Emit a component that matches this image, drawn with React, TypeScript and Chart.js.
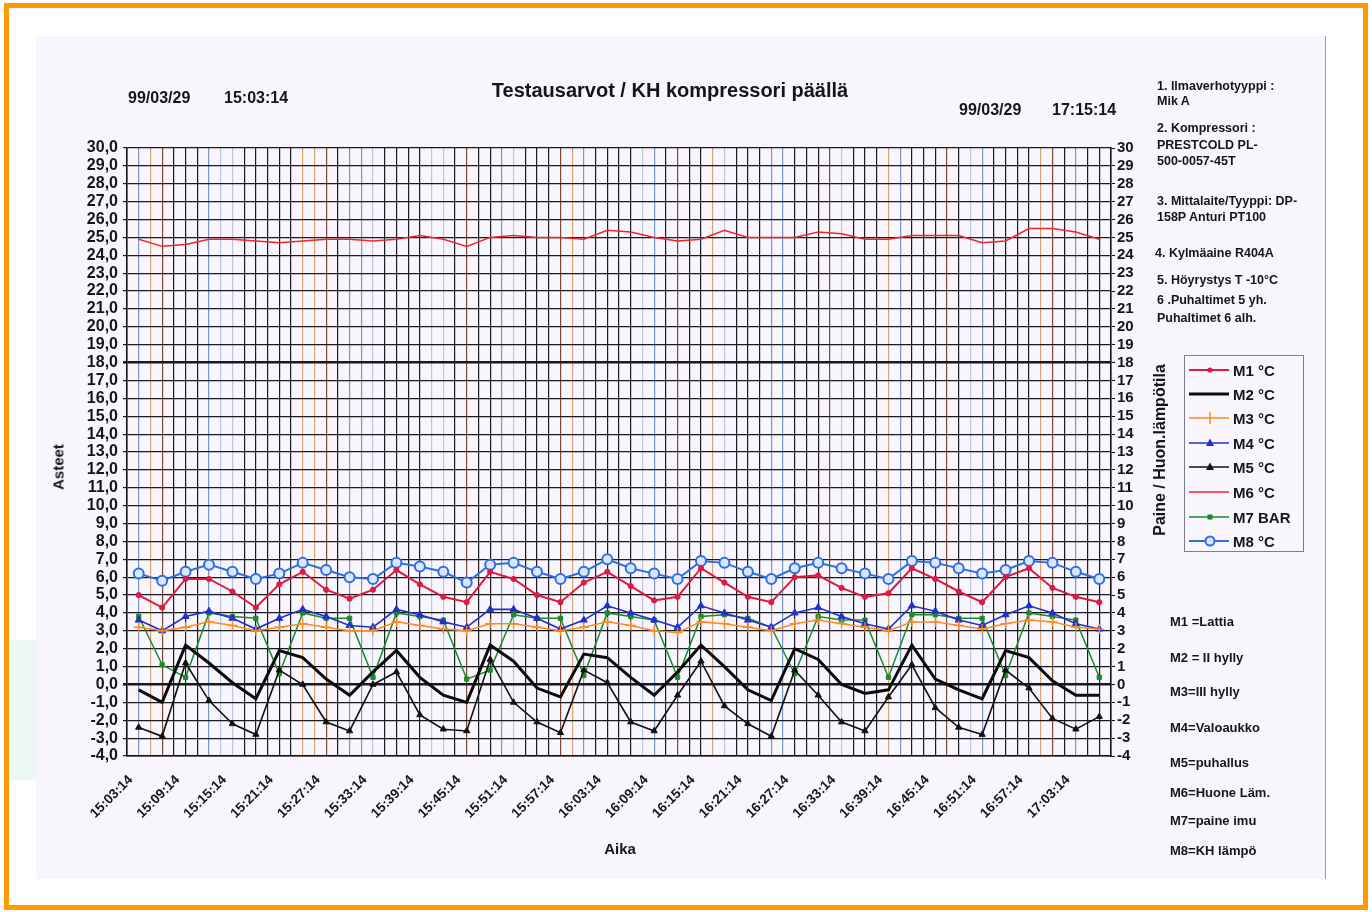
import React, { useEffect, useRef } from 'react';
import { Chart, registerables } from 'chart.js';

Chart.register(...registerables);

// ---------- DATA ----------
const TIME_LABELS = [
  '15:03:14', '15:06:14', '15:09:14', '15:12:14', '15:15:14', '15:18:14', '15:21:14', '15:24:14',
  '15:27:14', '15:30:14', '15:33:14', '15:36:14', '15:39:14', '15:42:14', '15:45:14', '15:48:14',
  '15:51:14', '15:54:14', '15:57:14', '16:00:14', '16:03:14', '16:06:14', '16:09:14', '16:12:14',
  '16:15:14', '16:18:14', '16:21:14', '16:24:14', '16:27:14', '16:30:14', '16:33:14', '16:36:14',
  '16:39:14', '16:42:14', '16:45:14', '16:48:14', '16:51:14', '16:54:14', '16:57:14', '17:00:14',
  '17:03:14', '17:06:14',
];

const M1_LATTIA = [
  5.0, 4.3, 5.9, 5.9, 5.2, 4.3, 5.6, 6.3, 5.3, 4.8, 5.3, 6.4, 5.6, 4.9, 4.6, 6.3, 5.9, 5.0, 4.6, 5.7,
  6.3, 5.5, 4.7, 4.9, 6.5, 5.7, 4.9, 4.6, 6.0, 6.1, 5.4, 4.9, 5.1, 6.5, 5.9, 5.2, 4.6, 6.0, 6.5, 5.4,
  4.9, 4.6,
];
const M2_II_HYLLY = [
  -0.3, -1.0, 2.2, 1.2, 0.1, -0.8, 1.9, 1.5, 0.3, -0.6, 0.7, 1.9, 0.4, -0.6, -1.0, 2.2, 1.3, -0.2, -0.7, 1.7,
  1.5, 0.4, -0.6, 0.7, 2.2, 1.0, -0.3, -0.9, 2.0, 1.4, 0.0, -0.5, -0.3, 2.2, 0.3, -0.3, -0.8, 1.9, 1.5, 0.2,
  -0.6, -0.6,
];
const M3_III_HYLLY = [
  3.2, 3.0, 3.2, 3.5, 3.3, 3.0, 3.2, 3.4, 3.2, 3.0, 3.0, 3.5, 3.3, 3.1, 3.0, 3.4, 3.4, 3.2, 3.0, 3.2,
  3.5, 3.3, 3.0, 2.9, 3.5, 3.4, 3.2, 3.0, 3.4, 3.6, 3.4, 3.2, 3.0, 3.5, 3.5, 3.3, 3.1, 3.4, 3.6, 3.5,
  3.2, 3.1,
];
const M4_VALOAUKKO = [
  3.6, 3.0, 3.8, 4.1, 3.7, 3.1, 3.7, 4.2, 3.8, 3.3, 3.2, 4.2, 3.9, 3.5, 3.2, 4.2, 4.2, 3.7, 3.1, 3.6,
  4.4, 4.0, 3.6, 3.2, 4.4, 4.0, 3.6, 3.2, 4.0, 4.3, 3.8, 3.4, 3.1, 4.4, 4.1, 3.6, 3.3, 3.9, 4.4, 4.0,
  3.4, 3.1,
];
const M5_PUHALLUS = [
  -2.4, -2.9, 1.2, -0.9, -2.2, -2.8, 0.8, 0.0, -2.1, -2.6, 0.0, 0.7, -1.7, -2.5, -2.6, 1.4, -1.0, -2.1, -2.7, 0.8,
  0.1, -2.1, -2.6, -0.6, 1.3, -1.2, -2.2, -2.9, 0.8, -0.6, -2.1, -2.6, -0.7, 1.1, -1.3, -2.4, -2.8, 0.8, -0.2, -1.9,
  -2.5, -1.8,
];
const M6_HUONE = [
  24.9, 24.5, 24.6, 24.9, 24.9, 24.8, 24.7, 24.8, 24.9, 24.9, 24.8, 24.9, 25.1, 24.9, 24.5, 25.0, 25.1, 25.0, 25.0, 24.9,
  25.4, 25.3, 25.0, 24.8, 24.9, 25.4, 25.0, 25.0, 25.0, 25.3, 25.2, 24.9, 24.9, 25.1, 25.1, 25.1, 24.7, 24.8, 25.5, 25.5,
  25.3, 24.9,
];
const M7_PAINE_IMU = [
  3.8, 1.1, 0.4, 4.0, 3.8, 3.7, 0.6, 4.0, 3.7, 3.7, 0.4, 4.0, 3.8, 3.6, 0.3, 0.8, 3.9, 3.7, 3.7, 0.5,
  4.0, 3.8, 3.6, 0.4, 3.8, 3.9, 3.7, 3.2, 0.6, 3.8, 3.6, 3.6, 0.4, 3.9, 3.9, 3.7, 3.7, 0.5, 4.0, 3.8,
  3.6, 0.4,
];
const M8_KH_LAMPO = [
  6.2, 5.8, 6.3, 6.7, 6.3, 5.9, 6.2, 6.8, 6.4, 6.0, 5.9, 6.8, 6.6, 6.3, 5.7, 6.7, 6.8, 6.3, 5.9, 6.3,
  7.0, 6.5, 6.2, 5.9, 6.9, 6.8, 6.3, 5.9, 6.5, 6.8, 6.5, 6.2, 5.9, 6.9, 6.8, 6.5, 6.2, 6.4, 6.9, 6.8,
  6.3, 5.9,
];

const SERIES_NAMES = ['M1 °C', 'M2 °C', 'M3 °C', 'M4 °C', 'M5 °C', 'M6 °C', 'M7 BAR', 'M8 °C'];
const Y_MIN = -4;
const Y_MAX = 30;

const NOTES_TOP = [
  '1. Ilmaverhotyyppi :', 'Mik A', '2. Kompressori :', 'PRESTCOLD PL-', '500-0057-45T',
  '3. Mittalaite/Tyyppi: DP-', '158P Anturi PT100', '4. Kylmäaine R404A', '5. Höyrystys T -10°C',
  '6 .Puhaltimet 5 yh.', 'Puhaltimet 6 alh.',
];
const NOTES_BOTTOM = [
  'M1 =Lattia', 'M2 = II hylly', 'M3=III hylly', 'M4=Valoaukko', 'M5=puhallus', 'M6=Huone Läm.',
  'M7=paine imu', 'M8=KH lämpö',
];

// ---------- STYLE ----------
const FONT = '"Liberation Sans", Arial, Helvetica, sans-serif';
const INK = '#151518';
const RED1 = '#dc1a42';
const RED6 = '#f2262a';
const ORANGE = '#ff8a1c';
const BLUE4 = '#2030cc';
const BLACK5 = '#111111';
const GREEN = '#1b8a2c';
const BLUE8 = '#2e6fe2';
const PAPER = '#f8f5fc';

const GRID_COLOR_MAP: Record<string, string> = {
  k: '#1c1c24',
  r: '#7e4634',
  b: '#7d94c6',
  o: '#d7a676',
  l: '#bcc6df',
};
const GRID_PATTERN =
  'kborkkkbllkkkkkoorkbblkkkkllkrkk' + 'blkkkrobkkkklbkrkkolkkkbbkkkrlkk' + 'kobkkkrklbkkkkorkbkkk';

const NOTES_TOP_Y = [86, 101, 128, 145, 161, 201, 217, 253, 280, 300, 318];
const NOTES_BOTTOM_Y = [621, 657, 691, 727, 762, 792, 820, 850];
const LEGEND_Y = [370, 394, 418, 443, 467, 492, 517, 541];

function Txt(props: { x: number; y: number; size?: number; children: React.ReactNode; center?: boolean; style?: React.CSSProperties }) {
  const size = props.size ?? 13;
  return (
    <div
      style={{
        position: 'absolute',
        left: props.x,
        top: props.y - size * 0.5,
        fontSize: size,
        lineHeight: `${size}px`,
        fontWeight: 700,
        whiteSpace: 'nowrap',
        color: INK,
        transform: props.center ? 'translateX(-50%)' : undefined,
        ...props.style,
      }}
    >
      {props.children}
    </div>
  );
}

function RotTxt(props: { x: number; y: number; size: number; children: React.ReactNode }) {
  return (
    <div
      style={{
        position: 'absolute',
        left: props.x,
        top: props.y,
        fontSize: props.size,
        lineHeight: `${props.size}px`,
        fontWeight: 700,
        whiteSpace: 'nowrap',
        color: INK,
        transform: 'translate(-50%,-50%) rotate(-90deg)',
      }}
    >
      {props.children}
    </div>
  );
}

function LegendSymbol({ idx }: { idx: number }) {
  const w = 42;
  const h = 14;
  const cy = 7;
  const cx = 21;
  const colors = [RED1, '#0c0c0c', ORANGE, BLUE4, BLACK5, RED6, GREEN, BLUE8];
  const widths = [2, 3, 1.5, 1.6, 1.6, 1.5, 1.5, 2];
  const c = colors[idx];
  let marker: React.ReactNode = null;
  if (idx === 0) marker = <circle cx={cx} cy={cy} r={2.6} fill={c} />;
  if (idx === 2) marker = <line x1={cx} y1={cy - 6} x2={cx} y2={cy + 6} stroke={c} strokeWidth={1.5} />;
  if (idx === 3 || idx === 4)
    marker = <polygon points={`${cx},${cy - 4.5} ${cx + 4},${cy + 3} ${cx - 4},${cy + 3}`} fill={c} />;
  if (idx === 6) marker = <rect x={cx - 2.5} y={cy - 2.5} width={5} height={5} fill={c} />;
  if (idx === 7) marker = <circle cx={cx} cy={cy} r={4.5} fill="#dbe5fb" stroke={c} strokeWidth={2} />;
  return (
    <svg width={w} height={h} style={{ display: 'block' }}>
      <line x1={0} y1={cy} x2={w - 2} y2={cy} stroke={c} strokeWidth={widths[idx]} />
      {marker}
    </svg>
  );
}

export default function App() {
  const ref = useRef<HTMLCanvasElement>(null);

  useEffect(() => {
    const canvas = ref.current;
    if (!canvas) return;
    const tickFont = { family: FONT, size: 16, weight: 'bold' as const };

    const chart = new Chart(canvas, {
      type: 'line',
      data: {
        labels: TIME_LABELS,
        datasets: [
          {
            label: SERIES_NAMES[0], data: M1_LATTIA, borderColor: RED1, backgroundColor: RED1,
            borderWidth: 2, pointStyle: 'circle', pointRadius: 2.6, pointBorderWidth: 1,
            xAxisID: 'x', yAxisID: 'y',
          },
          {
            label: SERIES_NAMES[1], data: M2_II_HYLLY, borderColor: '#0c0c0c', backgroundColor: '#0c0c0c',
            borderWidth: 3, pointRadius: 0, xAxisID: 'x', yAxisID: 'y',
          },
          {
            label: SERIES_NAMES[2], data: M3_III_HYLLY, borderColor: ORANGE, backgroundColor: ORANGE,
            borderWidth: 1.5, pointStyle: 'cross', pointRadius: 5, pointBorderWidth: 1.3,
            xAxisID: 'x', yAxisID: 'y',
          },
          {
            label: SERIES_NAMES[3], data: M4_VALOAUKKO, borderColor: BLUE4, backgroundColor: BLUE4,
            borderWidth: 1.6, pointStyle: 'triangle', pointRadius: 4, pointBorderWidth: 1,
            xAxisID: 'x', yAxisID: 'y',
          },
          {
            label: SERIES_NAMES[4], data: M5_PUHALLUS, borderColor: BLACK5, backgroundColor: BLACK5,
            borderWidth: 1.6, pointStyle: 'triangle', pointRadius: 3.6, pointBorderWidth: 1,
            xAxisID: 'x', yAxisID: 'y',
          },
          {
            label: SERIES_NAMES[5], data: M6_HUONE, borderColor: RED6, backgroundColor: RED6,
            borderWidth: 1.5, pointRadius: 0, xAxisID: 'x', yAxisID: 'y2',
          },
          {
            label: SERIES_NAMES[6], data: M7_PAINE_IMU, borderColor: GREEN, backgroundColor: GREEN,
            borderWidth: 1.5, pointStyle: 'rect', pointRadius: 3, pointBorderWidth: 1,
            xAxisID: 'x', yAxisID: 'y2',
          },
          {
            label: SERIES_NAMES[7], data: M8_KH_LAMPO, borderColor: BLUE8, backgroundColor: '#dbe5fb',
            borderWidth: 2, pointStyle: 'circle', pointRadius: 5, pointBorderWidth: 2,
            xAxisID: 'x', yAxisID: 'y',
          },
        ],
      },
      options: {
        responsive: false,
        animation: false,
        devicePixelRatio: 1,
        layout: { padding: { top: 112, left: 0, right: 0, bottom: 0 } },
        plugins: {
          legend: { display: false },
          tooltip: { enabled: false },
          title: { display: false },
        },
        scales: {
          x: {
            type: 'category',
            position: 'bottom',
            offset: true,
            grid: { display: false, drawTicks: false },
            border: { display: true, color: '#111', width: 1.5 },
            ticks: {
              autoSkip: false,
              minRotation: 45,
              maxRotation: 45,
              padding: 16,
              labelOffset: -8,
              font: { family: FONT, size: 13.5, weight: 'bold' as const },
              color: INK,
              callback: function (this: any, value: any, index: number) {
                return index % 2 === 0 ? this.getLabelForValue(value) : '';
              },
            },
            afterFit: (s: any) => {
              s.height = 123;
            },
          },
          xg: {
            type: 'linear',
            position: 'bottom',
            min: -0.5,
            max: 41.5,
            ticks: { display: false, stepSize: 0.5, autoSkip: false },
            grid: {
              drawTicks: false,
              lineWidth: 1.2,
              color: (c: any) => GRID_COLOR_MAP[GRID_PATTERN[c.index] || 'k'],
            },
            border: { display: false },
            afterFit: (s: any) => {
              s.height = 0;
            },
          },
          y: {
            position: 'left',
            min: Y_MIN,
            max: Y_MAX,
            ticks: {
              stepSize: 1,
              autoSkip: false,
              padding: 5,
              font: tickFont,
              color: INK,
              callback: (v: any) => Number(v).toFixed(1).replace('.', ','),
            },
            grid: {
              color: '#1a1a1e',
              tickLength: 4,
              lineWidth: (c: any) => (c.tick && (c.tick.value === 0 || c.tick.value === 18) ? 2.6 : 1.2),
            },
            border: { color: '#111', width: 1.5 },
            afterFit: (s: any) => {
              s.width = 91;
            },
          },
          y2: {
            position: 'right',
            min: Y_MIN,
            max: Y_MAX,
            ticks: {
              stepSize: 1,
              autoSkip: false,
              padding: 2,
              font: { family: FONT, size: 15, weight: 'bold' as const },
              color: INK,
            },
            grid: { drawOnChartArea: false, tickLength: 4, color: '#111' },
            border: { color: '#111', width: 1.5 },
            afterFit: (s: any) => {
              s.width = 215;
            },
          },
        },
      } as any,
    });
    return () => chart.destroy();
  }, []);

  return (
    <div
      style={{
        position: 'absolute',
        left: 0,
        top: 0,
        width: 1372,
        height: 912,
        background: '#ffffff',
        overflow: 'hidden',
        fontFamily: FONT,
      }}
    >
      {/* orange frame */}
      <div
        style={{
          position: 'absolute',
          left: 4,
          top: 3,
          width: 1364,
          height: 907,
          border: '5px solid #ff9a00',
          boxSizing: 'border-box',
        }}
      />
      <div style={{ position: 'absolute', left: 9, top: 640, width: 27, height: 140, background: '#eaf7f3' }} />
      {/* scanned sheet */}
      <div
        style={{
          position: 'absolute',
          left: 36,
          top: 36,
          width: 1290,
          height: 843,
          background: PAPER,
          borderRight: '1px solid #9c9cab',
          boxSizing: 'border-box',
        }}
      />
      <canvas
        ref={ref}
        width={1290}
        height={843}
        style={{ position: 'absolute', left: 36, top: 36, width: 1290, height: 843 }}
      />

      {/* title & headers */}
      <div
        style={{
          position: 'absolute',
          left: 370,
          width: 600,
          top: 80,
          textAlign: 'center',
          fontSize: 20,
          lineHeight: '20px',
          fontWeight: 700,
          color: INK,
          whiteSpace: 'nowrap',
        }}
      >
        Testausarvot / KH kompressori päällä
      </div>
      <Txt x={128} y={98} size={16}>99/03/29</Txt>
      <Txt x={224} y={98} size={16}>15:03:14</Txt>
      <Txt x={959} y={110} size={16}>99/03/29</Txt>
      <Txt x={1052} y={110} size={16}>17:15:14</Txt>

      {/* axis titles */}
      <RotTxt x={58} y={467} size={15}>Asteet</RotTxt>
      <RotTxt x={1160} y={450} size={16}>Paine / Huon.lämpötila</RotTxt>
      <Txt x={620} y={848} size={15} center>Aika</Txt>

      {/* notes top-right */}
      {NOTES_TOP.map((t, i) => (
        <Txt key={'nt' + i} x={i === 7 ? 1155 : 1157} y={NOTES_TOP_Y[i]} size={12.5}>
          {t}
        </Txt>
      ))}

      {/* legend */}
      <div
        style={{
          position: 'absolute',
          left: 1184,
          top: 355,
          width: 120,
          height: 197,
          border: '1px solid #7c7c8c',
          boxSizing: 'border-box',
          background: PAPER,
        }}
      />
      {SERIES_NAMES.map((name, i) => (
        <React.Fragment key={'lg' + i}>
          <div style={{ position: 'absolute', left: 1189, top: LEGEND_Y[i] - 7 }}>
            <LegendSymbol idx={i} />
          </div>
          <Txt x={1233} y={LEGEND_Y[i]} size={15}>
            {name}
          </Txt>
        </React.Fragment>
      ))}

      {/* notes bottom-right */}
      {NOTES_BOTTOM.map((t, i) => (
        <Txt key={'nb' + i} x={1170} y={NOTES_BOTTOM_Y[i]} size={13}>
          {t}
        </Txt>
      ))}
    </div>
  );
}
